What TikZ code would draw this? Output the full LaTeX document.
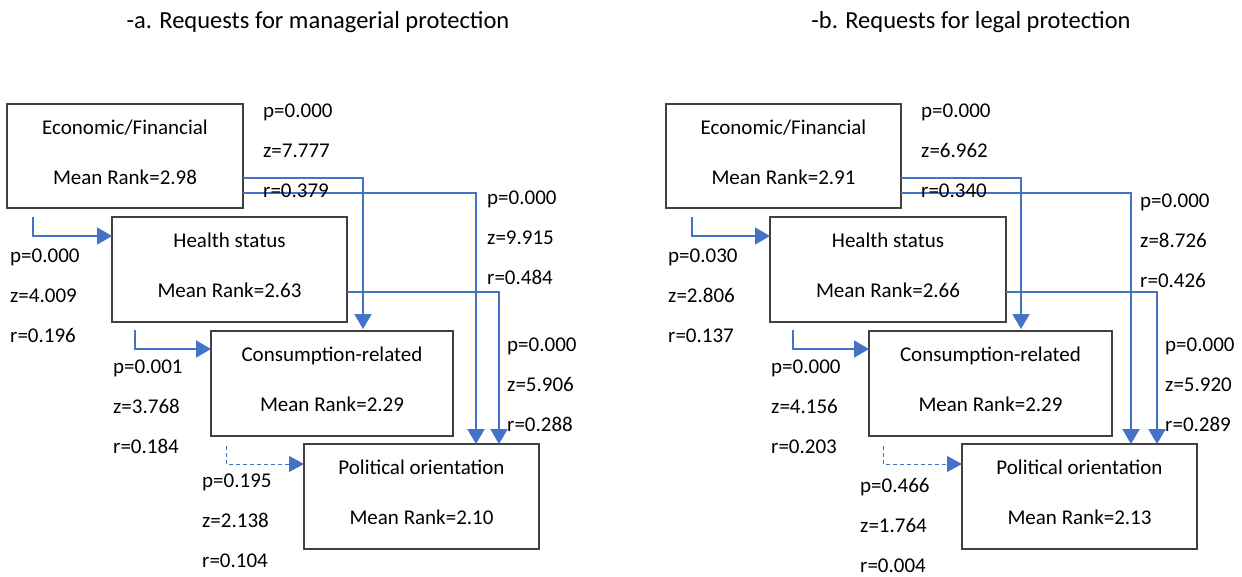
\documentclass[tikz,border=0pt]{standalone}
\usepackage{fontspec}
\setmainfont{Carlito}
\usetikzlibrary{arrows.meta,calc}
\definecolor{arrowblue}{RGB}{68,114,196}
\definecolor{boxgray}{RGB}{64,64,64}
\tikzset{
  box/.style={draw=boxgray, line width=1.3pt, inner sep=0pt, outer sep=0pt, fill=white},
  txt/.style={anchor=base, inner sep=0pt, font=\fontsize{21}{25}\selectfont},
  ttl/.style={anchor=base, inner sep=0pt, font=\fontsize{24.5}{29}\selectfont},
  lbl/.style={anchor=base west, inner sep=0pt, font=\fontsize{21}{25}\selectfont},
  conn/.style={draw=arrowblue, line width=2pt, -{Triangle[length=15pt,width=17pt]}},
  dconn/.style={draw=arrowblue, line width=1pt, dash pattern=on 4pt off 3pt, -{Triangle[length=15pt,width=16pt]}}
}
\newcommand{\statgroup}[6]{%
  \node[lbl] (#1p) at (#2,#3) {p=#4};
  \node[lbl] (#1z) at (#2,#3+40) {z=#5};
  \node[lbl] (#1r) at (#2,#3+80) {r=#6};
}
\newcommand{\rankbox}[7]{%
  \node[box, minimum width=#4-#2, minimum height=#5-#3] (#1) at ({(#2+#4)/2},{(#3+#5)/2}) {};
  \node[txt] (#1t) at ($(#1.north)+(0,30)$) {#6};
  \node[txt] (#1m) at ($(#1.north)+(0,80)$) {Mean Rank=#7};
}
\begin{document}
\begin{tikzpicture}[x=1pt,y=-1pt]
\useasboundingbox (0,0) rectangle (1242,576);
% titles
\node[ttl] (titleA) at (318,28) {-a. Requests for managerial protection};
\node[ttl] (titleB) at (971,28) {-b. Requests for legal protection};

% ---------- panel a ----------
\rankbox{eA}{7}{104}{243}{208}{Economic/Financial}{2.98}
\rankbox{hA}{112}{217}{347}{322}{Health status}{2.63}
\rankbox{cA}{211}{331}{453}{436}{Consumption-related}{2.29}
\rankbox{pA}{304}{444}{539}{549}{Political orientation}{2.10}

\draw[conn] ($(eA.south west)+(26,9)$) |- ($(hA.north west)+(0,19)$);
\draw[conn] ($(eA.north east)+(0,74)$) -| ($(cA.north west)+(152,-2)$);
\draw[conn] ($(eA.north east)+(0,89)$) -| ($(pA.north west)+(172,0)$);
\draw[conn] ($(hA.north east)+(0,75)$) -| ($(pA.north west)+(195,0)$);
\draw[conn] ($(hA.south west)+(23,8)$) |- ($(cA.north west)+(0,18)$);
\draw[dconn] ($(cA.south west)+(15,10)$) |- ($(pA.north west)+(0,20)$);

\statgroup{sAep}{263}{117}{0.000}{7.777}{0.379}
\statgroup{sAepol}{487}{204}{0.000}{9.915}{0.484}
\statgroup{sAeh}{10}{262}{0.000}{4.009}{0.196}
\statgroup{sAhc}{113}{373}{0.001}{3.768}{0.184}
\statgroup{sAhp}{507}{351}{0.000}{5.906}{0.288}
\statgroup{sAcp}{202}{487}{0.195}{2.138}{0.104}

% ---------- panel b ----------
\rankbox{eB}{666}{104}{901}{208}{Economic/Financial}{2.91}
\rankbox{hB}{770}{217}{1006}{322}{Health status}{2.66}
\rankbox{cB}{869}{331}{1112}{436}{Consumption-related}{2.29}
\rankbox{pB}{962}{444}{1197}{549}{Political orientation}{2.13}

\draw[conn] ($(eB.south west)+(26,9)$) |- ($(hB.north west)+(0,19)$);
\draw[conn] ($(eB.north east)+(0,74)$) -| ($(cB.north west)+(152,-2)$);
\draw[conn] ($(eB.north east)+(0,89)$) -| ($(pB.north west)+(169,0)$);
\draw[conn] ($(hB.north east)+(0,75)$) -| ($(pB.north west)+(195,0)$);
\draw[conn] ($(hB.south west)+(23,8)$) |- ($(cB.north west)+(0,18)$);
\draw[dconn] ($(cB.south west)+(14,10)$) |- ($(pB.north west)+(0,20)$);

\statgroup{sBep}{921}{117}{0.000}{6.962}{0.340}
\statgroup{sBepol}{1140}{207}{0.000}{8.726}{0.426}
\statgroup{sBeh}{668}{262}{0.030}{2.806}{0.137}
\statgroup{sBhc}{771}{373}{0.000}{4.156}{0.203}
\statgroup{sBhp}{1165}{351}{0.000}{5.920}{0.289}
\statgroup{sBcp}{860}{492}{0.466}{1.764}{0.004}
\end{tikzpicture}
\end{document}
